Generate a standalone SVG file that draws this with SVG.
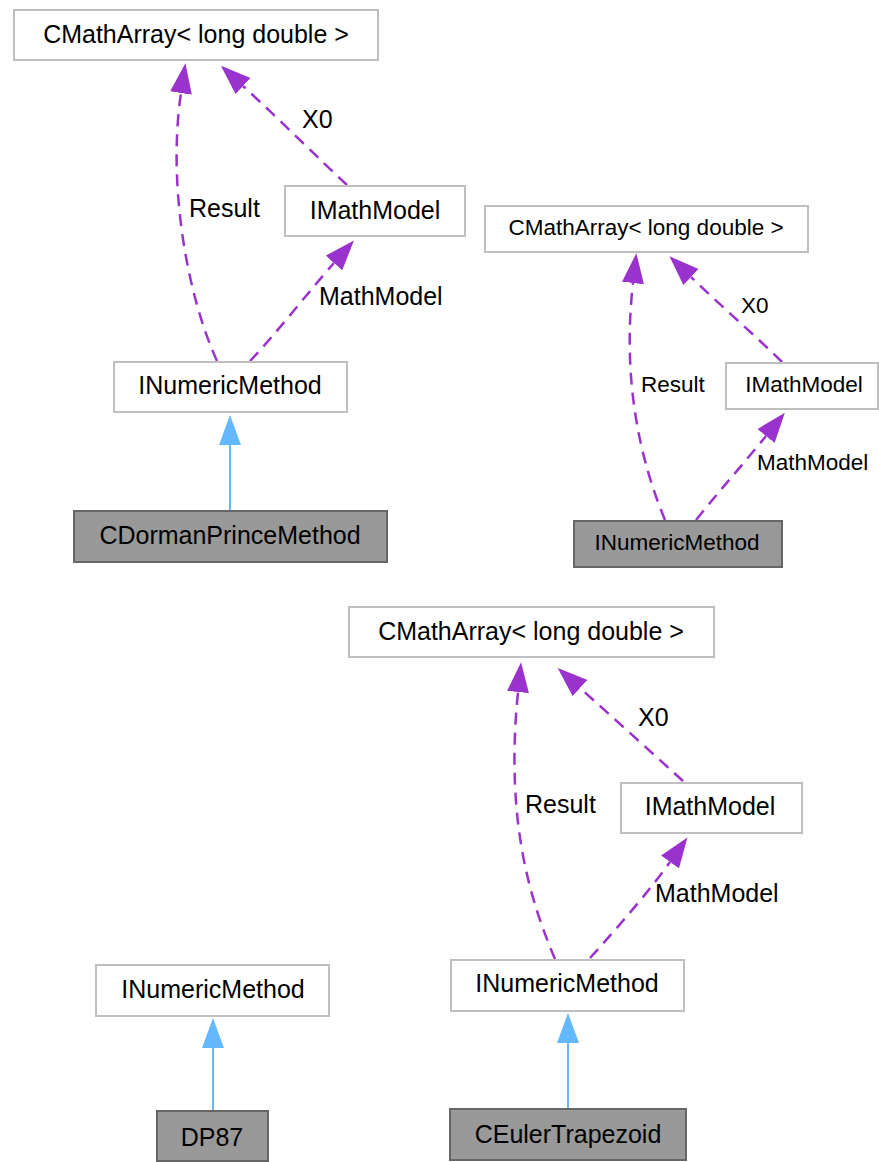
<svg xmlns="http://www.w3.org/2000/svg" width="879" height="1162" viewBox="0 0 879 1162">
<style>
.box{fill:#ffffff;stroke:#bfbfbf;stroke-width:2}
.hl{fill:#999999;stroke:#666666;stroke-width:2}
.t{font-family:"Liberation Sans",Arial,sans-serif;font-size:25px;fill:#000;text-anchor:middle}
.lbl{font-family:"Liberation Sans",Arial,sans-serif;font-size:25px;fill:#000}
.t.s,.lbl.s{font-size:22.5px}
.dash{fill:none;stroke:#9a32cd;stroke-width:2.5;stroke-dasharray:12,8;marker-end:url(#pa)}
.inh{fill:none;stroke:#63b8ff;stroke-width:2;marker-end:url(#ba)}
</style>
<defs>
<marker id="pa" markerUnits="userSpaceOnUse" markerWidth="31" markerHeight="22" refX="0" refY="11" orient="auto">
<path d="M0,0 L30,11 L0,22 z" fill="#9a32cd"/>
</marker>
<marker id="ba" markerUnits="userSpaceOnUse" markerWidth="31" markerHeight="22" refX="0" refY="11" orient="auto">
<path d="M0,0 L30,11 L0,22 z" fill="#63b8ff"/>
</marker>
</defs>
<g id="connectors">
<path class="dash" d="M217,361 C185,290 168,180 181,93"/>
<path class="dash" d="M347,185 C320,160 280,120 243,86"/>
<path class="dash" d="M250,361 C275,335 310,290 334,263"/>
<path class="inh" d="M230,511 L230,445"/>
<path class="dash" d="M665,520 C640,460 622,380 633,283"/>
<path class="dash" d="M782,362 C760,340 720,305 691,277"/>
<path class="dash" d="M696,520 C720,490 745,462 766,436"/>
<path class="dash" d="M555,959 C530,900 505,820 518,692"/>
<path class="dash" d="M683,781 C660,760 610,715 580,688"/>
<path class="dash" d="M590,958 C620,925 650,890 670,862"/>
<path class="inh" d="M568,1109 L568,1043"/>
<path class="inh" d="M213,1111 L213,1048"/>
<text class="lbl" x="189" y="217">Result</text>
<text class="lbl" x="302" y="128">X0</text>
<text class="lbl" x="319" y="305">MathModel</text>
<text class="lbl s" x="641" y="392">Result</text>
<text class="lbl s" x="741" y="313">X0</text>
<text class="lbl s" x="757" y="470">MathModel</text>
<text class="lbl" x="525" y="813">Result</text>
<text class="lbl" x="638" y="726">X0</text>
<text class="lbl" x="655" y="902">MathModel</text>
</g>
<g id="d1_cmatharray"><rect class="box" x="14" y="10" width="364" height="50"/><text class="t" x="196" y="43">CMathArray&lt; long double &gt;</text></g>
<g id="d1_imathmodel"><rect class="box" x="285" y="186" width="180" height="50"/><text class="t" x="375" y="219">IMathModel</text></g>
<g id="d1_inumericmethod"><rect class="box" x="114" y="362" width="233" height="50"/><text class="t" x="230" y="394">INumericMethod</text></g>
<g id="d1_cdormanprince"><rect class="hl" x="74" y="511" width="313" height="51"/><text class="t" x="230" y="544">CDormanPrinceMethod</text></g>
<g id="d2_cmatharray"><rect class="box" x="485" y="206" width="323" height="46"/><text class="t s" x="646" y="235">CMathArray&lt; long double &gt;</text></g>
<g id="d2_imathmodel"><rect class="box" x="726" y="363" width="152" height="46"/><text class="t s" x="804" y="392">IMathModel</text></g>
<g id="d2_inumericmethod"><rect class="hl" x="574" y="521" width="208" height="46"/><text class="t s" x="677" y="550">INumericMethod</text></g>
<g id="d3_cmatharray"><rect class="box" x="349" y="607" width="365" height="50"/><text class="t" x="531" y="640">CMathArray&lt; long double &gt;</text></g>
<g id="d3_imathmodel"><rect class="box" x="621" y="783" width="181" height="50"/><text class="t" x="710" y="815">IMathModel</text></g>
<g id="d3_inumericmethod"><rect class="box" x="451" y="960" width="233" height="51"/><text class="t" x="567" y="992">INumericMethod</text></g>
<g id="d3_ceulertrapezoid"><rect class="hl" x="450" y="1109" width="236" height="51"/><text class="t" x="568" y="1143">CEulerTrapezoid</text></g>
<g id="d4_inumericmethod"><rect class="box" x="96" y="965" width="233" height="51"/><text class="t" x="213" y="998">INumericMethod</text></g>
<g id="d4_dp87"><rect class="hl" x="157" y="1111" width="111" height="50"/><text class="t" x="212" y="1146">DP87</text></g>
</svg>
